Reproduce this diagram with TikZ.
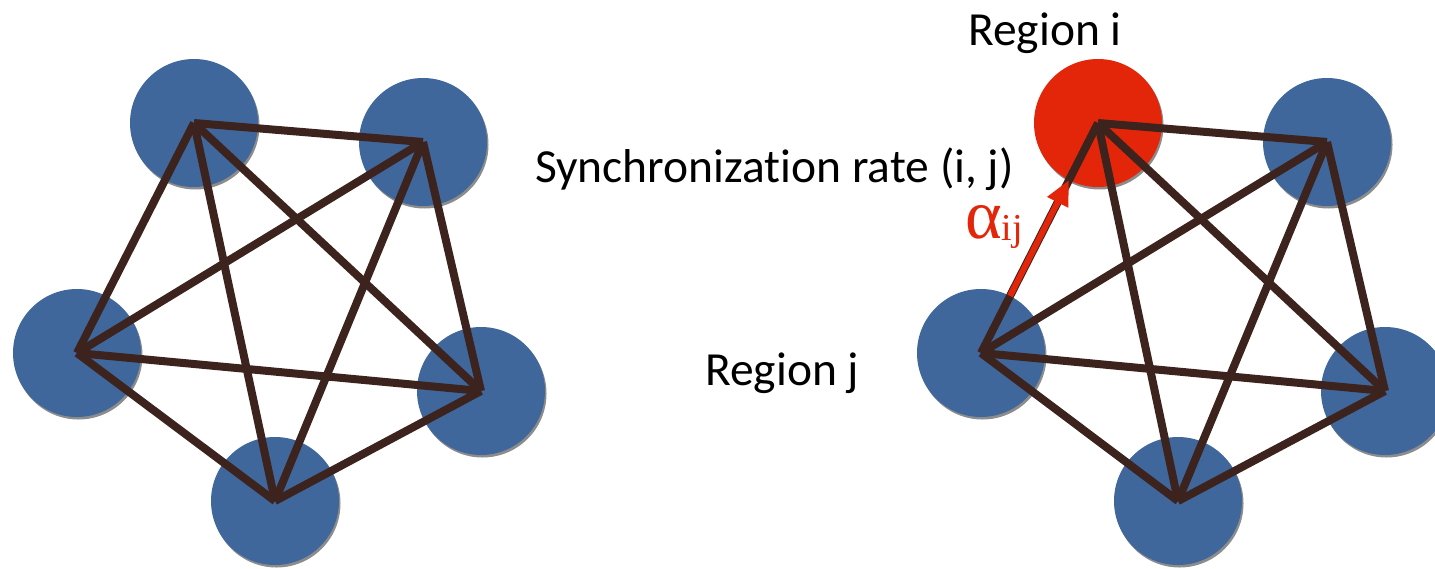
\documentclass[tikz,border=0pt]{standalone}
\usepackage{fontspec}
\setmainfont{Carlito}[Ligatures={NoCommon,NoRequired,NoContextual}]
\newfontfamily\serifgr{Liberation Serif}
\usetikzlibrary{shadows,arrows.meta}
\definecolor{nodeblue}{RGB}{63,103,155}
\definecolor{nodered}{RGB}{227,38,10}
\definecolor{edgebrown}{RGB}{61,35,30}
\tikzset{
  region/.style={circle, minimum size=128pt, inner sep=0pt, outer sep=0pt, fill=nodeblue,
    drop shadow={shadow xshift=1.5pt, shadow yshift=-2.5pt, opacity=0.45, fill=black}},
  link/.style={draw=edgebrown, line width=8pt},
  lbl/.style={font=\fontsize{47.5}{52}\selectfont, anchor=base west, inner sep=0pt, text=black},
  rate/.style={draw=nodered, line width=6pt, -{Triangle[length=25pt,width=22pt]}},
}
\begin{document}
\begin{tikzpicture}[x=1pt,y=-1pt]
\useasboundingbox (0,0) rectangle (1435,568);
% left graph
\node[region] (l1) at (194,123) {};
\node[region] (l2) at (423,142) {};
\node[region] (l3) at (77,353) {};
\node[region] (l4) at (481,391) {};
\node[region] (l5) at (275,501) {};
\foreach \a/\b in {l1/l2,l1/l3,l1/l4,l1/l5,l2/l3,l2/l4,l2/l5,l3/l4,l3/l5,l4/l5}
  \draw[link] (\a.center) -- (\b.center);
% right graph
\node[region, fill=nodered] (r1) at (1098,123) {};
\node[region] (r2) at (1327,142) {};
\node[region] (r3) at (981,353) {};
\node[region] (r4) at (1385,391) {};
\node[region] (r5) at (1178,501) {};
\foreach \a/\b in {r1/r2,r1/r3,r1/r4,r1/r5,r2/r3,r2/r4,r2/r5,r3/r4,r3/r5,r4/r5}
  \draw[link] (\a.center) -- (\b.center);
% rate arrow
\draw[rate] (r3) -- (r1);
% labels
\node[lbl] (ri) at (968,45) {Region i};
\node[lbl] (rj) at (705,385) {Region j};
\node[lbl] (sync) at (535,182) {Synchronization rate (i, j)};
\node[anchor=base west, inner sep=0pt, text=nodered] (alpha) at (965,238)
  {\serifgr\fontsize{70}{76}\selectfont α\raisebox{-2pt}{\fontsize{38}{42}\selectfont ij}};
\end{tikzpicture}
\end{document}
